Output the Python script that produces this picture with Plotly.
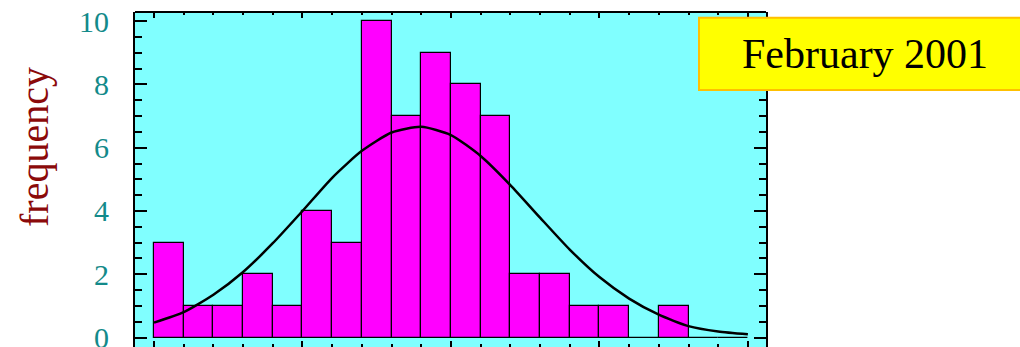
import plotly.graph_objects as go

# Histogram bins (bin index edges 0..20) and counts
bin_left = list(range(20))
counts = [3, 1, 1, 2, 1, 4, 3, 10, 7, 9, 8, 7, 2, 2, 1, 1, 0, 1, 0, 0]

# Fitted curve read at bin edges
curve_x = list(range(21))
curve_y = [0.47, 0.80, 1.35, 2.07, 2.98, 4.0, 5.05, 5.9, 6.48, 6.66, 6.4,
           5.74, 4.82, 3.79, 2.78, 1.91, 1.23, 0.72, 0.36, 0.19, 0.10]

y_ticks = [0, 2, 4, 6, 8, 10]
title_text = "February 2001"
y_label = "frequency"

W, H = 1020, 347
L, R, T, B = 135, 254, 12, 0
pw, ph = W - L - R, H - T - B

def px(x):
    return (x - L) / pw

def py(y):
    return (H - B - y) / ph

fig = go.Figure()
fig.add_trace(go.Bar(
    x=[b + 0.5 for b in bin_left], y=counts, width=1,
    marker=dict(color="#ff00ff", line=dict(color="black", width=1.2)),
    showlegend=False, hoverinfo="skip"))
fig.add_trace(go.Scatter(
    x=curve_x, y=curve_y, mode="lines", line_shape="spline",
    line=dict(color="black", width=2.5, smoothing=0.6),
    showlegend=False, hoverinfo="skip"))

serif = "Liberation Serif, Times New Roman, serif"

fig.update_layout(
    width=W, height=H,
    margin=dict(l=L, r=R, t=T, b=B, pad=0, autoexpand=False),
    plot_bgcolor="#80ffff", paper_bgcolor="white",
    bargap=0,
    xaxis=dict(range=[-0.64, 20.61], showgrid=False, zeroline=False,
               automargin=False,
               showline=False, showticklabels=False,
               ticks="inside", tick0=0, dtick=5, ticklen=6, tickwidth=1.5,
               tickcolor="black", mirror="ticks",
               minor=dict(ticks="inside", dtick=1, tick0=0, ticklen=3,
                          tickwidth=1.5, tickcolor="black")),
    yaxis=dict(range=[-0.30, 10.29], showgrid=False, zeroline=False,
               automargin=False,
               showline=True, linecolor="black", linewidth=2, mirror="ticks",
               ticks="inside", tickvals=y_ticks, ticklen=12, tickwidth=1.8,
               tickcolor="black", ticklabelstandoff=18,
               ticklabeloverflow="allow",
               tickfont=dict(family=serif, size=30, color="#138a8a"),
               minor=dict(ticks="inside", dtick=0.5, tick0=0, ticklen=7,
                          tickwidth=1.5, tickcolor="black")),
    shapes=[
        dict(type="line", xref="paper", yref="paper", x0=0, x1=1, y0=1, y1=1,
             line=dict(color="black", width=2), layer="above"),
        dict(type="rect", xref="paper", yref="paper",
             x0=px(699), x1=px(1031), y0=py(90), y1=py(17.7),
             fillcolor="#ffff00", line=dict(color="#ffc000", width=2),
             layer="above"),
    ],
    annotations=[
        dict(text=title_text, xref="paper", yref="paper",
             x=px(865), y=py(54), xanchor="center", yanchor="middle",
             showarrow=False, font=dict(family=serif, size=42, color="black")),
        dict(text=y_label, xref="paper", yref="paper",
             x=px(34), y=py(147), xanchor="center", yanchor="middle",
             textangle=-90, showarrow=False,
             font=dict(family=serif, size=40, color="#8b0a0a")),
    ],
)

fig.write_html("out.html")
